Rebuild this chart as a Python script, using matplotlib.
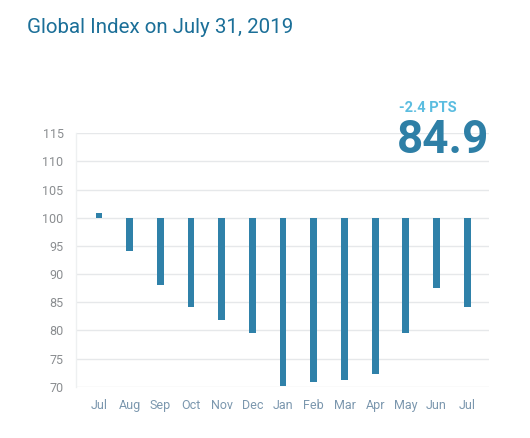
import matplotlib
matplotlib.use("Agg")
import matplotlib.pyplot as plt

months = ["Jul", "Aug", "Sep", "Oct", "Nov", "Dec", "Jan", "Feb", "Mar", "Apr", "May", "Jun", "Jul"]
values = [100.9, 94.1, 88.0, 84.2, 81.9, 79.6, 70.1, 70.8, 71.2, 72.2, 79.6, 87.5, 84.1]
baseline = 100
yticks = [70, 75, 80, 85, 90, 95, 100, 105, 110, 115]
title = "Global Index on July 31, 2019"
change_text = "-2.4 PTS"
current_text = "84.9"

plt.rcParams['font.family'] = ['Roboto', 'DejaVu Sans']

fig = plt.figure(figsize=(5.3, 4.38), dpi=100)
ax = fig.add_axes([0.1434, 0.1171, 0.922 - 0.1434, 0.6957 - 0.1171])

x = list(range(len(months)))
heights = [v - baseline for v in values]
ax.bar(x, heights, bottom=baseline, width=0.22, color="#2f81a9", zorder=3)

ax.set_ylim(70, 115)
ax.set_xlim(-0.75, 12.7)
ax.set_yticks(yticks)
ax.set_xticks(x)
ax.set_xticklabels(months)
ax.grid(axis="y", color="#e6e8ea", linewidth=1, zorder=0)
for s in ["top", "right", "bottom"]:
    ax.spines[s].set_visible(False)
ax.spines["left"].set_color("#eef0f1")
ax.spines["left"].set_linewidth(1)
ax.tick_params(axis="y", length=0, pad=9, labelsize=9, labelcolor="#8a8d90")
ax.tick_params(axis="x", length=0, pad=9, labelsize=9, labelcolor="#7b97ae")

fig.text(27 / 530, 1 - 33 / 438, title, fontsize=14.8, color="#1b6f98", ha="left", va="baseline")
fig.text(399 / 530, 1 - 112 / 438, change_text, fontsize=10.5, color="#5bbde0", ha="left", va="baseline", fontweight="semibold")
fig.text(489 / 530, 1 - 153 / 438, current_text, fontsize=33, color="#2e7fa6", ha="right", va="baseline", fontweight="bold")

fig.savefig("out.png", dpi=100)
